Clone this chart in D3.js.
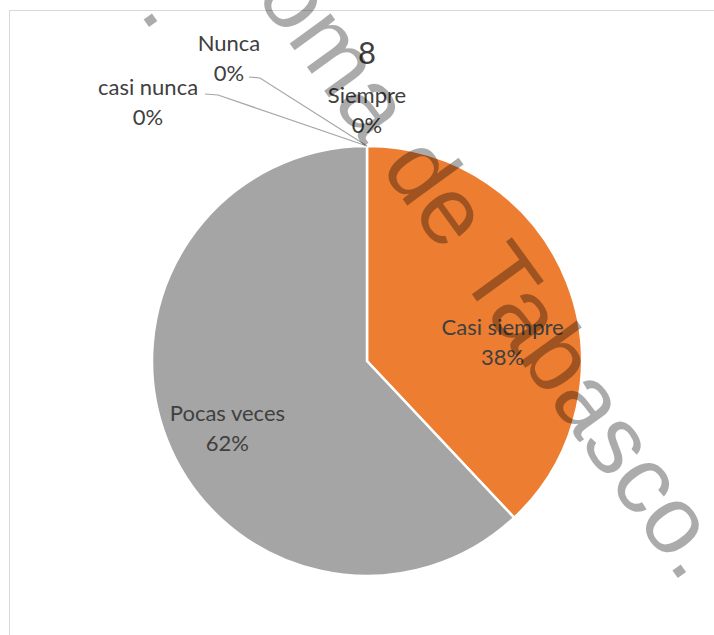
<!DOCTYPE html>
<html>
<head>
<meta charset="utf-8">
<script src="https://cdn.jsdelivr.net/npm/d3@7"></script>
<style>
  body { margin: 0; background: #fff; }
  svg { display: block; }
</style>
</head>
<body>
<div id="pie"></div>
<script>
// chart data
var categories = ["Siempre", "Casi siempre", "Pocas veces", "casi nunca", "Nunca"];
var values = [0, 38, 62, 0, 0];
var percentLabels = ["0%", "38%", "62%", "0%", "0%"];
var colors = ["#4472C4", "#ED7D31", "#A5A5A5", "#FFC000", "#5B9BD5"];
var title = "8";

var width = 714, height = 635;
var cx = 367, cy = 361, radius = 215;

var svg = d3.select("#pie")
  .append("svg")
    .attr("width", width)
    .attr("height", height);

// chart area border
svg.append("rect")
    .attr("x", 9.5)
    .attr("y", 10.5)
    .attr("width", 730)
    .attr("height", 650)
    .attr("fill", "none")
    .attr("stroke", "#d9d9d9");

var data = categories.map(function(c, i) {
  return {name: c, value: values[i], pct: percentLabels[i], color: colors[i]};
});

var pie = d3.pie()
    .sort(null)
    .value(function(d) { return d.value; });

var arcs = pie(data);

var arc = d3.arc()
    .innerRadius(0)
    .outerRadius(radius);

var g = svg.append("g")
    .attr("transform", "translate(" + cx + "," + cy + ")");

g.selectAll("path")
  .data(arcs.filter(function(d) { return d.value > 0; }))
  .enter()
  .append("path")
    .attr("d", arc)
    .attr("fill", function(d) { return d.data.color; })
    .attr("stroke", "#fff")
    .attr("stroke-width", 2.5);

// title
svg.append("text")
    .attr("x", cx)
    .attr("y", 64)
    .attr("text-anchor", "middle")
    .attr("font-family", "Lato, 'Open Sans', sans-serif")
    .attr("font-size", 31)
    .attr("fill", "#404040")
    .text(title);

// label placement (best-fit style): angle shift and radius for inner labels,
// fixed callouts for empty slices
var labelPos = {
  "Casi siempre": {da: 0.19, r: 138},
  "Pocas veces": {da: -0.03, r: 152},
  "Siempre": {x: 0, y: -258},
  "Nunca": {x: -138, y: -310, line: [[-118, -284], [-107, -283]]},
  "casi nunca": {x: -219, y: -266, line: [[-162, -267], [-149, -266]]}
};

var font = "Lato, 'Open Sans', sans-serif";

arcs.forEach(function(d) {
  var p = labelPos[d.data.name];
  var x, y;
  if (d.value > 0) {
    var a = (d.startAngle + d.endAngle) / 2 + p.da;
    x = Math.sin(a) * p.r;
    y = -Math.cos(a) * p.r;
  } else {
    x = p.x; y = p.y;
  }
  if (p.line) {
    var tip = arc.centroid({startAngle: d.startAngle, endAngle: d.endAngle, innerRadius: 0, outerRadius: 0});
    var edge = [Math.sin(d.startAngle) * radius, -Math.cos(d.startAngle) * radius];
    g.append("path")
        .attr("d", d3.line()([p.line[0], p.line[1], edge]))
        .attr("fill", "none")
        .attr("stroke", "#a6a6a6")
        .attr("stroke-width", 1.2);
  }
  var t = g.append("text")
      .attr("text-anchor", "middle")
      .attr("font-family", font)
      .attr("font-size", 22)
      .attr("fill", "#404040");
  t.append("tspan").attr("x", x).attr("y", y).text(d.data.name);
  t.append("tspan").attr("x", x).attr("y", y + 29.5).text(d.data.pct);
});

// watermark
var wm = svg.append("g")
    .attr("transform", "translate(683,585) rotate(54)")
    .attr("font-family", "'Liberation Sans', Arial, sans-serif")
    .attr("font-size", 96)
    .attr("fill", "#000")
    .attr("fill-opacity", 0.33);

wm.append("text")
    .attr("text-anchor", "end")
    .text("Universidad Juárez Autónoma de Tabasco.");

wm.append("text")
    .attr("x", -770)
    .attr("y", 104)
    .attr("text-anchor", "middle")
    .text(".");
</script>
</body>
</html>
